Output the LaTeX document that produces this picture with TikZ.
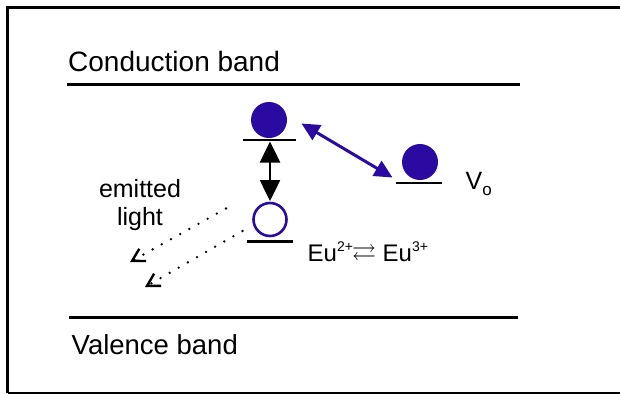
\documentclass[tikz,border=0pt]{standalone}
\usepackage{fontspec}
\setmainfont{Liberation Sans}
\usepackage{amssymb}
\usetikzlibrary{arrows.meta}
\definecolor{eublue}{RGB}{42,10,160}
\tikzset{
  band/.style={line width=3pt},
  level/.style={line width=2.5pt},
  filledstate/.style={circle, fill=eublue, minimum size=36pt, inner sep=0pt},
  openstate/.style={circle, draw=eublue, line width=2.6pt, minimum size=33pt, inner sep=0pt},
  lbl/.style={inner sep=0pt, font=\fontsize{28}{30}\selectfont},
  emitdots/.style={line width=2.6pt, dash pattern=on 0pt off 10.5pt, line cap=round,
     -{Straight Barb[angle=60:14pt, line width=2.4pt, line cap=butt]}},
}
\begin{document}
\begin{tikzpicture}[x=1pt, y=-1pt]
\useasboundingbox (0,0) rectangle (620,394);
% frame
\draw[line width=3pt] (7.5,393) -- (7.5,7.5) -- (622,7.5);
\draw[line width=2.5pt] (7.5,393) -- (622,393);
% bands
\coordinate (cbL) at (67,84);
\coordinate (cbR) at (520,84);
\draw[band] (cbL) -- (cbR);
\coordinate (vbL) at (69,317.5);
\coordinate (vbR) at (518,317.5);
\draw[band] (vbL) -- (vbR);
\node[lbl, anchor=base west] (cbt) at (68,71.7) {Conduction band};
\node[lbl, anchor=base west, font=\fontsize{27.5}{30}\selectfont] (vbt) at (71.5,354) {Valence band};
% Eu levels
\coordinate (l1L) at (243,140); \coordinate (l1R) at (296,140);
\draw[level] (l1L) -- (l1R);
\coordinate (l2L) at (247,241.5); \coordinate (l2R) at (293,241.5);
\draw[level] (l2L) -- (l2R);
\coordinate (l3L) at (396,183); \coordinate (l3R) at (442,183);
\draw[level] (l3L) -- (l3R);
\node[filledstate] (e1) at (269,120) {};
\node[openstate] (e2) at (270,219.5) {};
\node[filledstate] (vo) at (420,162) {};
% vertical arrow
\coordinate (va1) at (270,141.5);
\coordinate (va2) at (270,201);
\draw[line width=2.5pt, {Triangle[width=20pt,length=21pt]}-{Triangle[width=20pt,length=21pt]}] (va1) -- (va2);
% blue arrow
\coordinate (ba1) at (301.5,123.5);
\coordinate (ba2) at (392.5,177.5);
\draw[eublue, line width=3pt, {Triangle[width=17pt,length=18pt]}-{Triangle[width=17pt,length=18pt]}] (ba1) -- (ba2);
% labels
\node[inner sep=0pt, anchor=base west, font=\fontsize{25}{28}\selectfont] (volbl) at (465.5,189) {V\raisebox{-6pt}{\fontsize{17}{18}\selectfont o}};
\node[inner sep=0pt, anchor=base west, font=\fontsize{24}{28}\selectfont] (eulbl) at (307.5,261.5)
  {Eu\raisebox{10pt}{\fontsize{14}{15}\selectfont 2+}\kern-1pt\raisebox{1pt}{$\rightleftarrows$} Eu\raisebox{10pt}{\fontsize{14}{15}\selectfont 3+}};
\node[inner sep=0pt, align=center, font=\fontsize{25}{28}\selectfont] (em) at (140,205) {emitted\\light};
% emitted light
\coordinate (d1s) at (226,208.5);
\coordinate (d1e) at (130,262);
\coordinate (d2s) at (242.5,231);
\coordinate (d2e) at (145,287);
\draw[emitdots] (d1s) -- (d1e);
\draw[emitdots] (d2s) -- (d2e);
\end{tikzpicture}
\end{document}
